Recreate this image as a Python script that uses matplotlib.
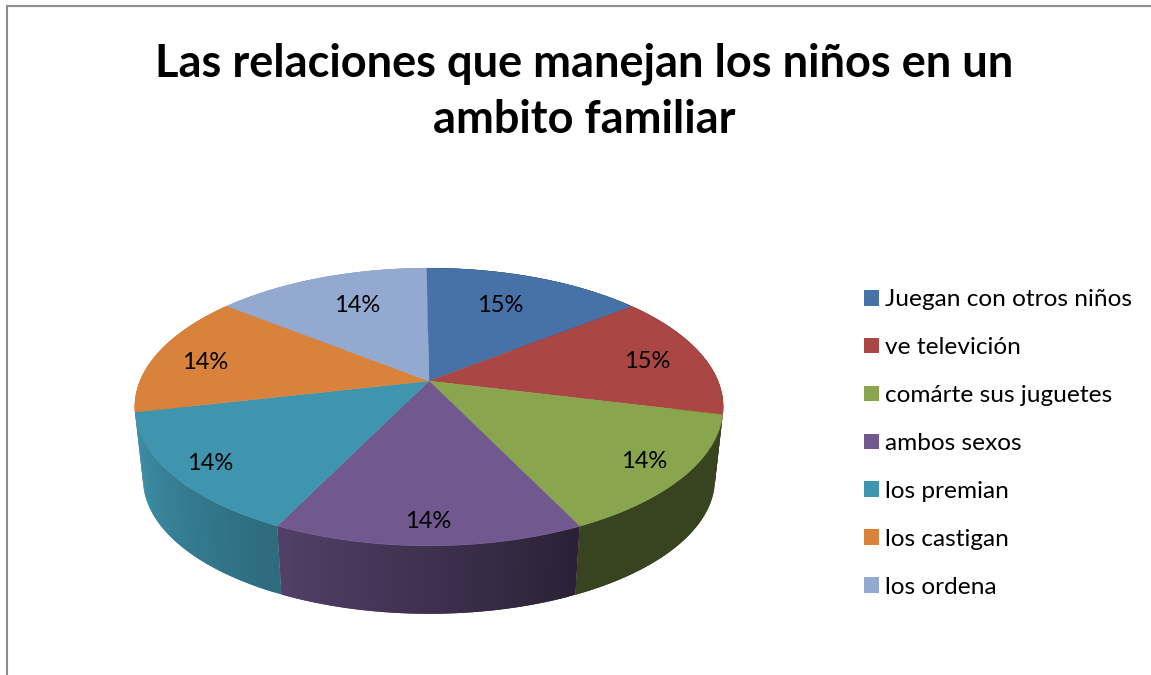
import numpy as np
import matplotlib
matplotlib.use("Agg")
import matplotlib.pyplot as plt
from matplotlib.patches import Patch, Polygon

categories = ["Juegan con otros niños", "ve televición", "comárte sus juguetes",
              "ambos sexos", "los premian", "los castigan", "los ordena"]
values = [14.51, 14.51, 14.01, 14.33, 14.24, 14.3, 14.1]
title = "Las relaciones que manejan los niños en un\nambito familiar"

colors = ["#4672a8", "#aa4643", "#89a54e", "#71588f", "#3f95ae", "#d9823c", "#93a9cf"]
# brightness of the rim at the start and end of each slice
rim_shade = [(0.4, 0.4), (0.4, 0.4), (0.41, 0.41), (0.38, 0.72), (0.72, 0.98), (0.9, 0.9), (0.9, 0.9)]
# where each percentage sits: share of the slice's sweep, distance from the middle
label_frac = [0.46, 0.53, 0.50, 0.50, 0.49, 0.45, 0.545]
label_radius = [0.69, 0.79, 0.86, 0.875, 0.875, 0.81, 0.69]
# the slices that face the viewer are drawn last
rim_order = [0, 1, 5, 6, 2, 3, 4]

plt.rcParams["font.family"] = ["Lato", "DejaVu Sans"]

CX, CY = 429, 381
K = 0.187
START = -0.6


def project(angle, r=1.0):
    # angle in degrees clockwise from the back of the pie, with perspective
    x = r * np.sin(np.radians(angle + START))
    y = r * np.cos(np.radians(angle + START))
    w = 1 + K * y
    return 289 * x / w, 134 * y / w


def top_xy(angle, r=1.0):
    px, py = project(angle, r)
    return CX + px, CY - py


def bottom_xy(angle):
    px, py = project(angle)
    return CX + 0.972 * px, CY - (0.97 * py - 72.9)


fig = plt.figure(figsize=(11.51, 6.75), dpi=100)
ax = fig.add_axes([0, 0, 1, 1])
ax.set_xlim(0, 1151)
ax.set_ylim(675, 0)
ax.axis("off")

# chart frame, cut off on the right and at the bottom
ax.plot([7, 7, 1151], [675, 6, 6], color="#8e8e8e", lw=1.5, solid_joinstyle="miter")

edges = np.concatenate([[0], np.cumsum(values)]) / np.sum(values) * 360

# rim first, the top face covers the back part of it
for i in rim_order:
    steps = np.linspace(edges[i], edges[i + 1], 41)
    base = np.array(matplotlib.colors.to_rgb(colors[i]))
    for j in range(len(steps) - 1):
        # every quad runs under the next one, so no seams show
        a0, a1 = steps[j], steps[min(j + 2, len(steps) - 1)]
        shade = np.interp(j, [0, len(steps) - 2], rim_shade[i])
        arc = np.linspace(a0, a1, 4)
        pts = [top_xy(a) for a in arc] + [bottom_xy(a) for a in arc[::-1]]
        ax.add_patch(Polygon(pts, closed=True, fc=base * shade, ec="none"))

for i, color in enumerate(colors):
    arc = [top_xy(a) for a in np.linspace(edges[i], edges[i + 1], 60)]
    ax.add_patch(Polygon([(CX, CY)] + arc, closed=True, fc=color, ec=color, lw=0.3))

for i, v in enumerate(values):
    mid = edges[i] + label_frac[i] * (edges[i + 1] - edges[i])
    lx, ly = top_xy(mid, label_radius[i])
    ax.text(lx, ly, f"{v:.0f}%", ha="center", va="center", fontsize=17, color="black")

ax.text(584, 92, title, ha="center", va="center", fontsize=32.5, fontweight="bold",
        color="black", linespacing=1.42)

handles = [Patch(fc=c, ec="none") for c in colors]
ax.legend(handles, categories, loc="upper left", bbox_to_anchor=(857, 282),
          bbox_transform=ax.transData, frameon=False, fontsize=17.6, labelspacing=1.1,
          handlelength=0.61, handleheight=0.61, handletextpad=0.25, borderpad=0.3,
          borderaxespad=0, labelcolor="black")

fig.savefig("out.png", dpi=100)
